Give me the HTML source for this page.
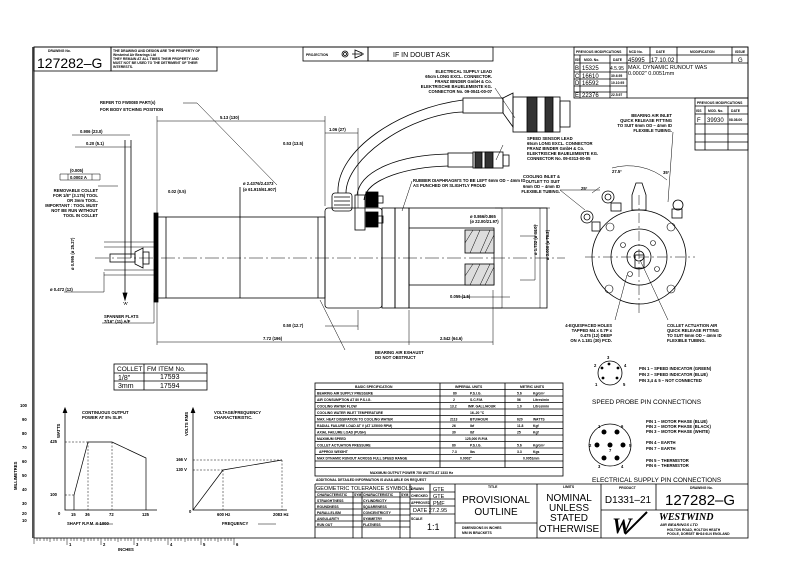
<!DOCTYPE html>
<html><head><meta charset="utf-8"><style>
html,body{margin:0;padding:0;background:#fff;}
svg{display:block;}
text{font-family:"Liberation Sans",sans-serif;fill:#000;}
.t{font-size:4.2px;font-weight:bold;}
.s{font-size:3.4px;font-weight:bold;}
</style></head><body>
<svg width="800" height="566" viewBox="0 0 800 566" xmlns="http://www.w3.org/2000/svg">
<rect width="800" height="566" fill="#fff"/>
<g fill="none" stroke="#000" stroke-width="0.8">
<!-- frame -->
<rect x="34" y="47" width="714" height="491"/>
<line x1="33" y1="47" x2="33" y2="538" stroke="#555" stroke-width="2"/>
<!-- top-left boxes -->
<rect x="34" y="47" width="77" height="24"/><rect x="111" y="47" width="106" height="24"/>
<rect x="303" y="47" width="65" height="14"/><rect x="368" y="47" width="125" height="14"/>
<circle cx="345" cy="54" r="3"/><circle cx="345" cy="54" r="1.5"/><path d="M352 54h12M355 50v8l7-3v-2z"/>
<!-- mods table -->
<rect x="574" y="47" width="174" height="51"/>
<path d="M574 55h174M574 63h53M627 63h121M574 72h53M574 79h53M574 86h53M574 92h53"/>
<path d="M627 47v51M650 47v16M677 47v16M732 47v16M580 55v43M610 55v43M580 63v35"/>
<rect x="695" y="98" width="53" height="52"/>
<path d="M695 106h53M695 114h53M695 124h53M695 134h53M695 142h53M705 106v44M728 106v44"/>
<!-- motor body -->
<rect x="157" y="217" width="168" height="81"/>
<line x1="166" y1="217" x2="166" y2="298"/><line x1="240" y1="187" x2="240" y2="298"/><line x1="318" y1="217" x2="318" y2="298"/>
<rect x="154" y="213" width="4" height="89" fill="#000"/>
<rect x="325" y="208" width="57" height="100" rx="3"/>
<rect x="382" y="208" width="13" height="100"/><rect x="395" y="208" width="14" height="100"/>
<rect x="409" y="208" width="138" height="100"/>
<rect x="409" y="228" width="85" height="57"/>
<rect x="465" y="230" width="29" height="23" fill="#ddd"/><rect x="465" y="264" width="29" height="21" fill="#ddd"/>
<path d="M470 253l10-23M480 253l10-23M470 285l10-21M480 285l10-21M465 243l8-13M485 253l9-18M465 276l8-12M485 285l9-18" stroke-width="0.5"/>
<!-- collet -->
<path d="M104 242h50M104 275h50M104 247h50M104 270h50" stroke-width="0.6"/>
<rect x="110" y="254" width="25" height="8"/><path d="M135 252l8-4v20l-8-4z"/><rect x="143" y="252" width="6" height="12"/>
<line x1="125" y1="140" x2="125" y2="300"/><path d="M123 293l2 7 2-7z" fill="#000"/>
<line x1="131" y1="140" x2="131" y2="258"/>
<!-- centerline -->
<path d="M95 258h470" stroke-dasharray="14 3 2 3" stroke-width="0.5"/>
<!-- fittings near body -->
<rect x="332" y="193" width="20" height="18" rx="3"/><path d="M334 197h16M334 201h16M334 205h16"/>
<rect x="355" y="195" width="10" height="35"/><rect x="366" y="192" width="12" height="15" fill="#000"/><rect x="366" y="212" width="12" height="15" fill="#000"/>
<rect x="378" y="196" width="5" height="7"/><rect x="378" y="216" width="5" height="7"/>
<!-- cables -->
<path d="M338 193C336 150 400 108 463 100M346 193C346 158 410 114 463 112"/>
<path d="M357 195C360 170 400 155 448 154M364 200C366 178 410 167 448 166"/>
<!-- big connector -->
<rect x="463" y="98" width="40" height="15"/><path d="M503 98l10-5v34l-10-14z"/>
<rect x="513" y="97" width="47" height="35"/><rect x="527" y="97" width="10" height="35" fill="#333"/><rect x="545" y="97" width="8" height="35" fill="#333"/>
<rect x="560" y="101" width="10" height="26"/>
<rect x="448" y="153" width="25" height="14"/><rect x="473" y="152" width="30" height="16"/><rect x="475" y="152" width="7" height="16" fill="#333"/><rect x="485" y="152" width="8" height="16" fill="#333"/><rect x="503" y="155" width="6" height="11"/>
<!-- dims -->
<path d="M157 121h168M157 116v100M325 116v90M325 133h33M358 128v80" stroke-width="0.5"/>
<path d="M157 342h252M409 342h84M157 300v45M409 310v35M493 290v55M325 326h33M358 310v20" stroke-width="0.5"/>
<path d="M495 208h7v100h-7M510 208h40M540 208v100M535 224v56M520 236h15M520 280h15M460 297h50" stroke-width="0.5"/>
<path d="M72 135h58M75 147h56M60 174h40v6h-40zM68 174v6M92 174v6" stroke-width="0.5"/>
<!-- leader lines -->
<path d="M183 103h14l80 82M495 88l20 30M503 145l-7 15M412 181l-10 30M345 350l-25-50M98 186h20M64 292h40v-20M102 323h52v-30" stroke-width="0.5"/>
<!-- end view -->
<circle cx="639" cy="257" r="47"/><circle cx="639" cy="257" r="28"/><circle cx="639" cy="257" r="12"/>
<rect x="635" y="255" width="9" height="13"/><circle cx="639" cy="256" r="5"/>
<path d="M585 257h110M639 195v120" stroke-dasharray="10 3 2 3" stroke-width="0.5"/>
<g stroke-width="0.6"><circle cx="610" cy="227" r="4"/><circle cx="671" cy="227" r="4"/><circle cx="609" cy="289" r="4"/><circle cx="671" cy="289" r="4"/>
<circle cx="653" cy="243" r="2.5"/><circle cx="630" cy="274" r="2.5"/><circle cx="657" cy="269" r="2.5"/><circle cx="623" cy="245" r="2.5"/></g>
<path d="M632 210v-15l4-12h6l4 12v15z"/>
<circle cx="608" cy="197" r="6"/><circle cx="608" cy="197" r="3"/><circle cx="587" cy="217" r="6"/><circle cx="587" cy="217" r="3"/>
<rect x="611" y="203" width="10" height="8"/><rect x="592" y="222" width="8" height="9"/>
<circle cx="678" cy="205" r="5"/><rect x="672" y="209" width="10" height="9"/>
<path d="M612 168a60 60 0 0 1 55 12M600 187l-8 6M673 132l-5 70M615 320l12-45M668 320l-28-60M560 190l25 20M560 190l40 0" stroke-width="0.5"/>
<!-- collet table -->
<rect x="114" y="364" width="93" height="26"/><path d="M114 373h93M114 381h93M144 364v26"/>
<!-- spec table -->
<rect x="315" y="383" width="248" height="93"/>
<path d="M315 389.5h248M315 396h248M315 402.5h248M315 409h248M315 415.5h248M315 422h248M315 428.5h248M315 435h248M315 441.5h248M315 448h248M315 454.5h248M315 461h248M315 467.5h248"/>
<path d="M440 383v84.5M505 383v84.5"/>
<!-- title block -->
<path d="M315 484h433M315 484v54M410 484v54M455 484v54M537 484v54M601 484v54M656 484v26M601 510h147M455 523h82"/>
<path d="M315 492h140M315 497h95M315 503h95M315 509h95M315 515h95M315 521h95M315 527h95M410 499h45M410 506h45M410 514h45M430 484v30M353 492v46M362 492v46M400 492v46"/>
<!-- graphs -->
<path d="M65 408v102h92M193 408v102h94"/>
<path d="M63 413l2-5 2 5" fill="#000"/><path d="M191 413l2-5 2 5" fill="#000"/>
<path d="M74 510v-15l14-53h24l34 16v52" stroke-width="0.7"/>
<path d="M65 442h23M65 495h9M88 442v68M112 442v68" stroke-dasharray="2 1.5" stroke-width="0.5"/>
<path d="M193 510l30-40 59-10" stroke-width="0.7"/>
<path d="M193 470h30M193 460h89M223 470v40M282 460v50" stroke-dasharray="2 1.5" stroke-width="0.5"/>
<path d="M95 524h18M258 524h18" stroke-width="0.5"/>
<!-- pins -->
<circle cx="610" cy="373" r="12"/><circle cx="610" cy="445" r="21"/>
</g>
<g fill="#000">
<circle cx="609" cy="364" r="1.4"/><circle cx="602" cy="368" r="1.4"/><circle cx="618" cy="368" r="1.4"/><circle cx="603" cy="378" r="1.4"/><circle cx="617" cy="378" r="1.4"/>
<circle cx="604" cy="432" r="2.5"/><circle cx="617" cy="432" r="2.5"/><circle cx="597" cy="445" r="2.5"/><circle cx="610" cy="445" r="2.5"/><circle cx="623" cy="445" r="2.5"/><circle cx="604" cy="458" r="2.5"/><circle cx="617" cy="458" r="2.5"/>
</g>
<!-- rulers -->
<g stroke="#000" stroke-width="0.5">
<path d="M34 538v6M37 538v3M40 538v3M44 538v3M47 538v3M50 538v4M54 538v3M57 538v3M61 538v3M64 538v3M67 538v7M71 538v3M74 538v3M77 538v3M81 538v3M84 538v4M88 538v3M91 538v3M94 538v3M98 538v3M101 538v7M105 538v3M108 538v3M111 538v3M115 538v3M118 538v4M121 538v3M125 538v3M128 538v3M131 538v3M134 538v7M138 538v3M141 538v3M145 538v3M148 538v3M151 538v4M155 538v3M158 538v3M161 538v3M165 538v3M168 538v7M171 538v3M175 538v3M178 538v3M181 538v3M185 538v4M188 538v3M191 538v3M195 538v3M198 538v3M201 538v7M205 538v3M208 538v3M211 538v3M215 538v3M218 538v4M221 538v3M225 538v3M228 538v3M231 538v3M234 538v7"/>
</g>
<!-- texts -->
<text class="s" x="48" y="52">DRAWING No.</text>
<text x="37" y="68" style="font-size:14px">127282–G</text>
<text class="s" x="113" y="52">THE DRAWING AND DESIGN ARE THE PROPERTY OF</text>
<text class="s" x="113" y="56">Westwind Air Bearings Ltd</text>
<text class="s" x="113" y="60">THEY REMAIN AT ALL TIMES THEIR PROPERTY AND</text>
<text class="s" x="113" y="64">MUST NOT BE USED TO THE DETRIMENT OF THEIR</text>
<text class="s" x="113" y="68">INTERESTS.</text>
<text class="s" x="306" y="56">PROJECTION</text>
<text x="393" y="57" style="font-size:7px">IF  IN  DOUBT  ASK</text>
<text class="s" x="576" y="53">PREVIOUS MODIFICATIONS</text><text class="s" x="629" y="53">NCD No.</text><text class="s" x="656" y="53">DATE</text><text class="s" x="690" y="53">MODIFICATION</text><text class="s" x="735" y="53">ISSUE</text>
<text class="s" x="575" y="61">ISS</text><text class="s" x="584" y="61">MOD. No.</text><text class="s" x="613" y="61">DATE</text>
<text x="628" y="62" style="font-size:6px">45995</text><text x="651" y="62" style="font-size:6px">17.10.02</text><text x="738" y="62" style="font-size:6px">G</text>
<text x="575" y="70" style="font-size:6px">B</text><text x="582" y="70" style="font-size:6px">15325</text><text x="610" y="70" style="font-size:5px">4.5.95</text>
<text x="628" y="69" style="font-size:5.5px">MAX.  DYNAMIC  RUNOUT  WAS</text><text x="628" y="75" style="font-size:5.5px">0.0002"  0.0051mm</text>
<text x="575" y="78" style="font-size:6px">C</text><text x="582" y="78" style="font-size:6px">16610</text><text class="s" x="611" y="77">30.6.95</text>
<text x="575" y="85" style="font-size:6px">D</text><text x="582" y="85" style="font-size:6px">16592</text><text class="s" x="611" y="84">10.10.95</text>
<text x="575" y="97" style="font-size:6px">E</text><text x="582" y="97" style="font-size:6px">22376</text><text class="s" x="611" y="96">22.5.97</text>
<text class="s" x="697" y="104">PREVIOUS MODIFICATIONS</text><text class="s" x="696" y="112">ISS</text><text class="s" x="708" y="112">MOD. No.</text><text class="s" x="731" y="112">DATE</text>
<text x="697" y="122" style="font-size:6px">F</text><text x="707" y="122" style="font-size:6px">39930</text><text class="s" x="729" y="121">08.08.00</text>
<g class="t" text-anchor="end">
<text x="492" y="73">ELECTRICAL SUPPLY LEAD</text><text x="492" y="78">65cm LONG EXCL. CONNECTOR.</text><text x="492" y="83">FRANZ BINDER GmbH &amp; Co.</text><text x="492" y="88">ELEKTRISCHE BAUELEMENTE KG.</text><text x="492" y="93">CONNECTOR No. 09-0041-00-07</text>
<text x="672" y="117">BEARING AIR INLET</text><text x="672" y="122">QUICK RELEASE FITTING</text><text x="672" y="127">TO SUIT 6mm OD – 4mm ID</text><text x="672" y="132">FLEXIBLE TUBING.</text>
<text x="98" y="192">REMOVABLE COLLET</text><text x="98" y="197">FOR 1/8" (3.175) TOOL</text><text x="98" y="202">OR 3mm TOOL.</text><text x="98" y="207">IMPORTANT : TOOL MUST</text><text x="98" y="212">NOT BE RUN WITHOUT</text><text x="98" y="217">TOOL IN COLLET</text>
<text x="612" y="327">4-EQUISPACED HOLES</text><text x="612" y="332">TAPPED M4 x 0.7P x</text><text x="612" y="337">0.475 (12) DEEP</text><text x="612" y="342">ON A 1.181 (30) PCD.</text>
<text x="560" y="178">COOLING INLET &amp;</text><text x="560" y="183">OUTLET TO SUIT</text><text x="560" y="188">6mm OD – 4mm ID</text><text x="560" y="193">FLEXIBLE TUBING.</text>
</g>
<g class="t">
<text x="527" y="140">SPEED SENSOR LEAD</text><text x="527" y="145">65cm LONG EXCL. CONNECTOR</text><text x="527" y="150">FRANZ BINDER GmbH &amp; Co.</text><text x="527" y="155">ELEKTRISCHE BAUELEMENTE KG.</text><text x="527" y="160">CONNECTOR No. 09-0313-00-05</text>
<text x="667" y="327">COLLET ACTUATION AIR</text><text x="667" y="332">QUICK RELEASE FITTING</text><text x="667" y="337">TO SUIT 6mm OD – 4mm ID</text><text x="667" y="342">FLEXIBLE TUBING.</text>
<text x="100" y="104">REFER TO FW0080 PART(s)</text><text x="100" y="111">FOR BODY ETCHING POSITION</text>
<text x="220" y="119">5.13 (130)</text><text x="329" y="131">1.06 (27)</text><text x="80" y="133">0.906 (23.0)</text><text x="86" y="145">0.20 (5.1)</text><text x="283" y="145">0.53 (13.5)</text>
<text x="70" y="172">(0.005)</text><text x="70" y="179">0.0002  A</text><text x="168" y="193">0.02 (0.5)</text>
<text x="243" y="185">ø 2.4376/2.4373</text><text x="243" y="191">(ø 61.915/61.907)</text>
<text x="470" y="218">ø 0.866/0.865</text><text x="470" y="223">(ø 22.00/21.97)</text>
<text x="450" y="298">0.059 (1.5)</text><text x="283" y="327">0.50 (12.7)</text><text x="263" y="340">7.72 (196)</text><text x="440" y="340">2.542 (64.6)</text>
<text x="50" y="291">ø 0.472 (12)</text><text x="104" y="318">SPANNER FLATS</text><text x="104" y="323">7/16" (11) A/F</text><text x="123" y="305">'A'</text>
<text x="375" y="354">BEARING AIR EXHAUST</text><text x="375" y="359">DO NOT OBSTRUCT</text>
<text x="413" y="182">RUBBER DIAPHRAGM'S TO BE LEFT  6mm OD – 4mm ID</text><text x="413" y="187">AS PUNCHED OR SLIGHTLY PROUD</text>
<text x="612" y="173">27.5°</text><text x="663" y="174">35°</text><text x="581" y="190">25°</text>
</g>
<text class="t" transform="translate(74,270) rotate(-90)">ø 0.995 (ø 25.27)</text>
<text class="t" transform="translate(537,255) rotate(-90)">ø 1.732 (ø 44.0)</text>
<text class="t" transform="translate(549,260) rotate(-90)">ø 3.000 (ø 76.2)</text>
<!-- collet table text -->
<text x="117" y="371" style="font-size:6.5px">COLLET</text><text x="147" y="371" style="font-size:6.5px">FM ITEM No.</text>
<text x="118" y="380" style="font-size:7px">1/8"</text><text x="160" y="379" style="font-size:7px">17593</text>
<text x="118" y="388" style="font-size:7px">3mm</text><text x="160" y="388" style="font-size:7px">17594</text>
<!-- spec text -->
<g class="s">
<text x="355" y="388">BASIC SPECIFICATION</text><text x="455" y="388">IMPERIAL UNITS</text><text x="520" y="388">METRIC UNITS</text>
<text x="317" y="394.5">BEARING AIR SUPPLY PRESSURE</text><text x="453" y="394.5">80</text><text x="470" y="394.5">P.S.I.G.</text><text x="517" y="394.5">5.6</text><text x="533" y="394.5">Kg/cm²</text>
<text x="317" y="401">AIR CONSUMPTION AT 80 P.S.I.G.</text><text x="453" y="401">2</text><text x="470" y="401">S.C.F.M.</text><text x="517" y="401">56</text><text x="533" y="401">Litres/min</text>
<text x="317" y="407.5">COOLING WATER FLOW</text><text x="450" y="407.5">13.2</text><text x="468" y="407.5">IMP. GALL/HOUR</text><text x="517" y="407.5">1.0</text><text x="533" y="407.5">Litres/min</text>
<text x="317" y="414">COOLING WATER INLET TEMPERATURE</text><text x="470" y="414">16–20    °C</text>
<text x="317" y="420.5">MAX. HEAT DISSIPATION TO COOLING WATER</text><text x="450" y="420.5">2113</text><text x="470" y="420.5">BTU/HOUR</text><text x="517" y="420.5">620</text><text x="533" y="420.5">WATTS</text>
<text x="317" y="427">RADIAL FAILURE LOAD AT V (AT 125000 RPM)</text><text x="452" y="427">26</text><text x="470" y="427">lbf</text><text x="517" y="427">11.8</text><text x="533" y="427">Kgf</text>
<text x="317" y="433.5">AXIAL FAILURE LOAD (PUSH)</text><text x="452" y="433.5">30</text><text x="470" y="433.5">lbf</text><text x="517" y="433.5">25</text><text x="533" y="433.5">Kgf</text>
<text x="317" y="440">MAXIMUM SPEED</text><text x="465" y="440">125,000        R.P.M.</text>
<text x="317" y="446.5">COLLET ACTUATION PRESSURE</text><text x="452" y="446.5">80</text><text x="470" y="446.5">P.S.I.G.</text><text x="517" y="446.5">5.6</text><text x="533" y="446.5">Kg/cm²</text>
<text x="319" y="453">APPROX WEIGHT</text><text x="452" y="453">7.3</text><text x="470" y="453">lbs</text><text x="517" y="453">3.3</text><text x="533" y="453">Kgs</text>
<text x="317" y="459.5">MAX DYNAMIC RUNOUT ACROSS FULL SPEED RANGE</text><text x="460" y="459.5">0.0002"</text><text x="523" y="459.5">0.0051mm</text>
<text x="370" y="474">MAXIMUM OUTPUT POWER 750 WATTS AT 1333 Hz</text>
<text x="316" y="481">ADDITIONAL DETAILED INFORMATION IS AVAILABLE ON REQUEST</text>
<text x="317" y="496">CHARACTERISTIC</text><text x="354" y="496">SYM</text><text x="363" y="496">CHARACTERISTIC</text><text x="401" y="496">SYM</text>
<text x="317" y="502">STRAIGHTNESS</text><text x="363" y="502">CYLINDRICITY</text>
<text x="317" y="508">ROUNDNESS</text><text x="363" y="508">SQUARENESS</text>
<text x="317" y="514">PARALLELISM</text><text x="363" y="514">CONCENTRICITY</text>
<text x="317" y="520">ANGULARITY</text><text x="363" y="520">SYMMETRY</text>
<text x="317" y="526">RUN OUT</text><text x="363" y="526">FLATNESS</text>
<text x="411" y="490">DRAWN</text><text x="411" y="497">CHECKED</text><text x="411" y="504">APPROVED</text><text x="411" y="520">SCALE</text>
<text x="488" y="488">TITLE</text><text x="563" y="488">LIMITS</text><text x="619" y="489">PRODUCT</text><text x="690" y="489">DRAWING No.</text>
<text x="462" y="529">DIMENSIONS IN INCHES</text><text x="462" y="534">MM IN BRACKETS</text>
<text x="667" y="531">HOLTON ROAD, HOLTON HEATH</text><text x="667" y="535">POOLE, DORSET BH16 6LN ENGLAND</text>
</g>
<text x="316" y="490" style="font-size:5.5px">GEOMETRIC TOLERANCE SYMBOLS</text>
<text x="433" y="491" style="font-size:5.5px">GTE</text><text x="433" y="498" style="font-size:5.5px">GTE</text><text x="433" y="505" style="font-size:5.5px">PMF</text><text x="413" y="512" style="font-size:5.5px">DATE 27.2.95</text>
<text x="427" y="530" style="font-size:9px">1:1</text>
<g style="font-size:10px" text-anchor="middle">
<text x="496" y="503">PROVISIONAL</text><text x="496" y="515">OUTLINE</text>
<text x="569" y="501">NOMINAL</text><text x="569" y="511">UNLESS</text><text x="569" y="521">STATED</text><text x="569" y="532">OTHERWISE</text>
<text x="628" y="503">D1331–21</text>
</g>
<text x="665" y="505" style="font-size:15px">127282–G</text>
<text x="659" y="520" style="font-size:10px;font-style:italic;font-weight:bold;font-family:'Liberation Serif',serif">WESTWIND</text>
<text x="660" y="526" style="font-size:4px;font-style:italic;font-weight:bold">AIR BEARINGS LTD</text>
<text x="612" y="533" style="font-size:22px;font-style:italic;font-weight:bold;font-family:'Liberation Serif',serif">W</text>
<path d="M625 534l22-22" stroke="#000" stroke-width="2"/>
<!-- pin texts -->
<g class="t">
<text x="639" y="370">PIN 1  –  SPEED INDICATOR  (GREEN)</text><text x="639" y="376">PIN 2  –  SPEED INDICATOR  (BLUE)</text><text x="639" y="382">PIN 3,4 &amp; 5  –  NOT CONNECTED</text>
<text x="646" y="423">PIN 1  –  MOTOR PHASE  (BLUE)</text><text x="646" y="428">PIN 2  –  MOTOR PHASE  (BLACK)</text><text x="646" y="433">PIN 3  –  MOTOR PHASE  (WHITE)</text>
<text x="646" y="444">PIN 4  –  EARTH</text><text x="646" y="450">PIN 7  –  EARTH</text>
<text x="646" y="462">PIN 5  –  THERMISTOR</text><text x="646" y="467">PIN 6  –  THERMISTOR</text>
<text x="607" y="359">3</text><text x="594" y="367">2</text><text x="624" y="367">4</text><text x="595" y="386">1</text><text x="623" y="386">5</text>
<text x="598" y="428">1</text><text x="621" y="428">6</text><text x="589" y="447">2</text><text x="629" y="447">5</text><text x="609" y="452">7</text><text x="598" y="468">3</text><text x="621" y="468">4</text>
<text x="82" y="414">CONTINUOUS OUTPUT</text><text x="82" y="419">POWER AT 8% SLIP.</text>
<text x="214" y="414">VOLTAGE/FREQUENCY</text><text x="214" y="419">CHARACTERISTIC.</text>
<text x="50" y="443">425</text><text x="50" y="496">100</text><text x="58" y="515">0</text>
<text x="71" y="516">15</text><text x="85" y="516">36</text><text x="109" y="516">72</text><text x="142" y="516">125</text>
<text x="67" y="525">SHAFT R.P.M. X 1000</text>
<text x="176" y="461">166 V</text><text x="176" y="471">130 V</text><text x="189" y="513">0</text>
<text x="217" y="516">600 Hz</text><text x="273" y="516">2083 Hz</text><text x="222" y="525">FREQUENCY</text>
<text x="20" y="407">100</text><text x="22" y="421">90</text><text x="22" y="435">80</text><text x="22" y="449">70</text><text x="22" y="463">60</text><text x="22" y="477">50</text><text x="22" y="491">40</text><text x="22" y="505">30</text><text x="22" y="515">20</text><text x="22" y="522">10</text>
<text x="69" y="546">1</text><text x="103" y="546">2</text><text x="136" y="546">3</text><text x="170" y="546">4</text><text x="203" y="546">5</text><text x="236" y="546">6</text>
<text x="118" y="551">INCHES</text>
</g>
<text class="t" transform="translate(60,438) rotate(-90)">WATTS</text>
<text class="t" transform="translate(188,436) rotate(-90)">VOLTS RMS</text>
<text class="t" transform="translate(17,490) rotate(-90)">MILLIMETRES</text>
<text x="592" y="404" style="font-size:6.5px">SPEED  PROBE  PIN  CONNECTIONS</text>
<text x="592" y="482" style="font-size:6.5px">ELECTRICAL  SUPPLY  PIN  CONNECTIONS</text>
</svg>
</body></html>
